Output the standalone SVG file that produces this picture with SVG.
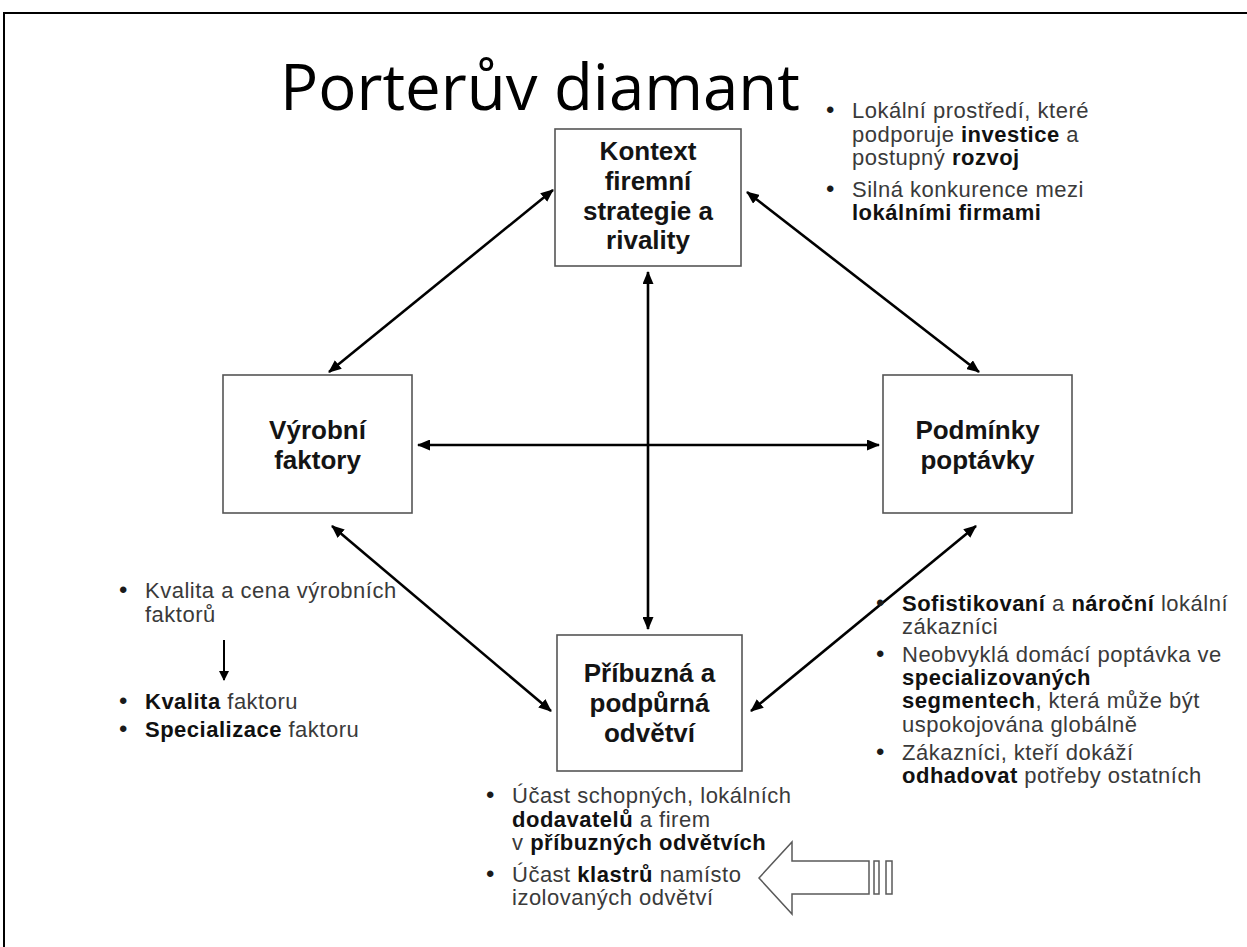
<svg xmlns="http://www.w3.org/2000/svg" width="1247" height="947" viewBox="0 0 1247 947">
<style>
.frame{fill:none;stroke:#000;stroke-width:2}
.box{fill:#fff;stroke:#555;stroke-width:1.6}
.bt{font-family:"Liberation Sans",Arial,sans-serif;font-weight:bold;font-size:26px;fill:#141414;text-anchor:middle}
.b{font-family:"Liberation Sans",Arial,sans-serif;font-size:22px;fill:#3a3a3a;letter-spacing:0.5px}
.d{font-family:"Liberation Sans",Arial,sans-serif;font-size:24px;fill:#1a1a1a}
.k{font-weight:bold;fill:#111}
.con{stroke:#000;stroke-width:2.6;fill:none;marker-start:url(#ah);marker-end:url(#ah)}
.title{font-family:"Open Sans","Noto Sans",sans-serif;font-size:64px;fill:#000}
</style>
<defs>
<marker id="ah" markerUnits="userSpaceOnUse" markerWidth="13" markerHeight="11" refX="12" refY="5.5" orient="auto-start-reverse" viewBox="0 0 13 11">
<path d="M0,0 L13,5.5 L0,11 Z" fill="#000"/>
</marker>
<marker id="ah2" markerUnits="userSpaceOnUse" markerWidth="10" markerHeight="10" refX="9" refY="5" orient="auto" viewBox="0 0 10 10">
<path d="M0,0 L10,5 L0,10 Z" fill="#000"/>
</marker>
</defs>
<rect width="1247" height="947" fill="#fff"/>
<path class="frame" d="M4,950 V13 H1250"/>
<text class="title" x="280" y="110" textLength="520" lengthAdjust="spacingAndGlyphs">Porterův diamant</text>

<g id="connectors">
<line class="con" x1="553" y1="190" x2="329" y2="372"/>
<line class="con" x1="747" y1="192" x2="979" y2="372"/>
<line class="con" x1="648" y1="272" x2="648" y2="629"/>
<line class="con" x1="418" y1="445" x2="879" y2="445"/>
<line class="con" x1="332" y1="526" x2="551" y2="711"/>
<line class="con" x1="976" y1="526" x2="751" y2="711"/>
<line x1="224" y1="640" x2="224" y2="680" stroke="#000" stroke-width="2" marker-end="url(#ah2)"/>
</g>

<g id="node-kontext">
<rect class="box" x="555" y="129" width="186" height="137"/>
<text class="bt"><tspan x="648" y="160">Kontext</tspan><tspan x="648" y="190">firemní</tspan><tspan x="648" y="219.5">strategie a</tspan><tspan x="648" y="249">rivality</tspan></text>
</g>

<g id="node-vyrobni">
<rect class="box" x="223" y="375" width="189" height="138"/>
<text class="bt"><tspan x="317.5" y="439">Výrobní</tspan><tspan x="317.5" y="468.5">faktory</tspan></text>
</g>

<g id="node-podminky">
<rect class="box" x="883" y="375" width="189" height="138"/>
<text class="bt"><tspan x="977.5" y="439">Podmínky</tspan><tspan x="977.5" y="468.5">poptávky</tspan></text>
</g>

<g id="node-pribuzna">
<rect class="box" x="557" y="635" width="185" height="136"/>
<text class="bt"><tspan x="649.5" y="682">Příbuzná a</tspan><tspan x="649.5" y="712">podpůrná</tspan><tspan x="649.5" y="742">odvětví</tspan></text>
</g>

<g id="notes-kontext">
<text class="d" x="826" y="118">•</text>
<text class="b" x="852" y="118">Lokální prostředí, které</text>
<text class="b" x="852" y="142">podporuje <tspan class="k">investice</tspan> a</text>
<text class="b" x="852" y="165">postupný <tspan class="k">rozvoj</tspan></text>
<text class="d" x="826" y="197">•</text>
<text class="b" x="852" y="197">Silná konkurence mezi</text>
<text class="b" x="852" y="220"><tspan class="k">lokálními firmami</tspan></text>
</g>

<g id="notes-vyrobni">
<text class="d" x="119" y="598">•</text>
<text class="b" x="145" y="598">Kvalita a cena výrobních</text>
<text class="b" x="145" y="622">faktorů</text>
<text class="d" x="119" y="709">•</text>
<text class="b" x="145" y="709"><tspan class="k">Kvalita</tspan> faktoru</text>
<text class="d" x="119" y="737">•</text>
<text class="b" x="145" y="737"><tspan class="k">Specializace</tspan> faktoru</text>
</g>

<g id="notes-podminky">
<text class="d" x="876" y="611">•</text>
<text class="b" x="902" y="611"><tspan class="k">Sofistikovaní</tspan> a <tspan class="k">nároční</tspan> lokální</text>
<text class="b" x="902" y="634">zákazníci</text>
<text class="d" x="876" y="662">•</text>
<text class="b" x="902" y="662">Neobvyklá domácí poptávka ve</text>
<text class="b" x="902" y="685"><tspan class="k">specializovaných</tspan></text>
<text class="b" x="902" y="708"><tspan class="k">segmentech</tspan>, která může být</text>
<text class="b" x="902" y="732">uspokojována globálně</text>
<text class="d" x="876" y="760">•</text>
<text class="b" x="902" y="760">Zákazníci, kteří dokáží</text>
<text class="b" x="902" y="783"><tspan class="k">odhadovat</tspan> potřeby ostatních</text>
</g>

<g id="notes-pribuzna">
<text class="d" x="486" y="803">•</text>
<text class="b" x="512" y="803">Účast schopných, lokálních</text>
<text class="b" x="512" y="827"><tspan class="k">dodavatelů</tspan> a firem</text>
<text class="b" x="512" y="850">v <tspan class="k">příbuzných odvětvích</tspan></text>
<text class="d" x="486" y="882">•</text>
<text class="b" x="512" y="882">Účast <tspan class="k">klastrů</tspan> namísto</text>
<text class="b" x="512" y="905">izolovaných odvětví</text>
</g>

<g id="block-arrow" fill="#fff" stroke="#5a5a5a" stroke-width="1.5">
<polygon points="759,878 792,842 792,861 869,861 869,894 792,894 792,914"/>
<rect x="874" y="861" width="5" height="33"/>
<rect x="886" y="861" width="6" height="33"/>
</g>
</svg>
